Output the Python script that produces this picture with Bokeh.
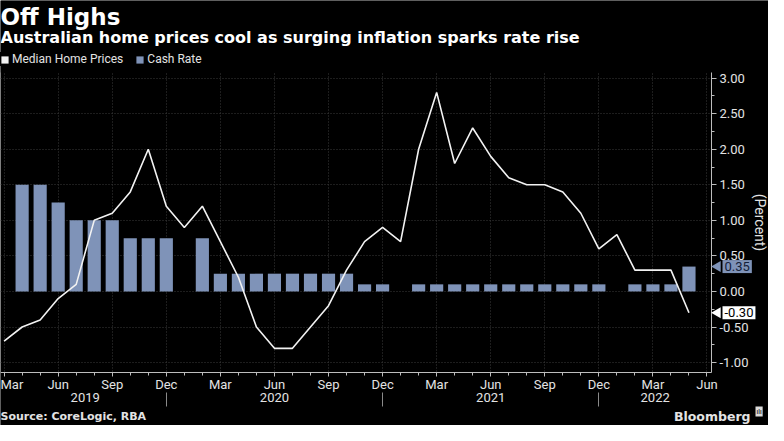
import math
import pandas as pd
from bokeh.plotting import figure
from bokeh.models import (Range1d, LinearAxis, FixedTicker, NumeralTickFormatter,
                          Label, Legend, LegendItem, ColumnDataSource, BoxAnnotation)
from bokeh.embed import file_html
from bokeh.resources import INLINE

# ---------------- data ----------------
TITLE = "Off Highs"
SUBTITLE = "Australian home prices cool as surging inflation sparks rate rise"
SOURCE = "Source: CoreLogic, RBA"
BRAND = "Bloomberg"
Y_LABEL = "(Percent)"
SERIES_NAMES = ["Median Home Prices", "Cash Rate"]

first_month = "2019-03"
last_month = "2022-05"
axis_last_month = "2022-06"

NaN = float("nan")
# monthly change in median home prices, Mar 2019 .. May 2022
home_prices = [-0.7, -0.5, -0.4, -0.1, 0.1, 1.0, 1.1, 1.4, 2.0, 1.2,
               0.9, 1.2, 0.7, 0.2, -0.5, -0.8, -0.8, -0.5, -0.2, 0.3, 0.7, 0.9,
               0.7, 2.0, 2.8, 1.8, 2.3, 1.9, 1.6, 1.5, 1.5, 1.4, 1.1, 0.6,
               0.8, 0.3, 0.3, 0.3, -0.3]
# RBA cash rate, Mar 2019 .. May 2022 (no decision in January)
cash_rate = [NaN, 1.5, 1.5, 1.25, 1.0, 1.0, 1.0, 0.75, 0.75, 0.75,
             NaN, 0.75, 0.25, 0.25, 0.25, 0.25, 0.25, 0.25, 0.25, 0.25, 0.1, 0.1,
             NaN, 0.1, 0.1, 0.1, 0.1, 0.1, 0.1, 0.1, 0.1, 0.1, 0.1, 0.1,
             NaN, 0.1, 0.1, 0.1, 0.35]
quarter_months = [3, 6, 9, 12]
y_ticks = [-1.0, -0.5, 0.0, 0.5, 1.0, 1.5, 2.0, 2.5, 3.0]
y_minor_ticks = [-1.0, -0.75, -0.5, -0.25, 0.0, 0.25, 0.5, 0.75, 1.0, 1.25,
                 1.5, 1.75, 2.0, 2.25, 2.5, 2.75, 3.0]

# ---------------- styling / layout ----------------
BG = "#000000"
LINE_COLOR = "#f2f2f2"
BAR_COLOR = "#7f93b8"
GRID_COLOR = "#3a3a3a"
AXIS_COLOR = "#bdbdbd"
TEXT_COLOR = "#e3e3e3"
TICK_FONT = "Roboto"
HEAD_FONT = "DejaVu Sans"

W, H = 768, 425
DL, DR, DT, DB = 0, 711, 72, 372        # data area inside the canvas (px)
X0, XA = -0.2, 39.25                     # data x at left edge / right axis
Y0, Y1 = -1.14, 3.08                     # data y at bottom / top of data area


def cx(px):
    return X0 + (px - DL) * (XA - X0) / (DR - DL)


def cy(py):
    return Y1 - (py - DT) * (Y1 - Y0) / (DB - DT)


XMIN, XMAX = cx(0), cx(W)
YTOP, YBOT = cy(0), cy(H)

months = pd.period_range(first_month, last_month, freq="M")
axis_months = pd.period_range(first_month, axis_last_month, freq="M")
xs = list(range(len(months)))

src = ColumnDataSource(dict(x=xs, home=home_prices, cash=cash_rate))

p = figure(width=W, height=H, x_range=Range1d(XMIN, XMAX), y_range=Range1d(YBOT, YTOP),
           output_backend="svg", toolbar_location=None, y_axis_location="right",
           min_border=0, min_border_left=0, min_border_right=0, min_border_top=0,
           min_border_bottom=0, background_fill_color=BG, border_fill_color=BG,
           outline_line_color=None)
p.title.visible = False

bars = p.vbar(x="x", top="cash", width=0.73, source=src, fill_color=BAR_COLOR,
              line_color=None)
line = p.line(x="x", y="home", source=src, line_color=LINE_COLOR, line_width=1.6)
# legend swatch for the line series (nothing visible is drawn: top is NaN)
swatch = p.vbar(x=[0], top=[NaN], width=0.5, fill_color=LINE_COLOR, line_color=None)

# grids
for g in (p.xgrid[0], p.ygrid[0]):
    g.grid_line_color = GRID_COLOR
    g.grid_line_dash = "1 2"
    g.grid_line_width = 1

# black masks outside the data area (hide grid overflow)
for (l, r, b, t) in [(XMIN, XMAX, Y1, YTOP), (XMIN, XMAX, YBOT, Y0), (XA, XMAX, Y0, Y1)]:
    p.add_layout(BoxAnnotation(left=l, right=r, bottom=b, top=t, fill_color=BG,
                               fill_alpha=1.0, line_color=None, level="glyph"))

# x axis (months)
q_ticks = [i for i, m in enumerate(axis_months) if m.month in quarter_months]
q_labels = {i: axis_months[i].strftime("%b") for i in q_ticks}
xa = p.xaxis[0]
xa.fixed_location = Y0
xa.bounds = (X0, XA)
xa.ticker = FixedTicker(ticks=q_ticks, minor_ticks=list(range(len(axis_months))))
xa.major_label_overrides = q_labels
xa.axis_line_color = AXIS_COLOR
xa.major_tick_line_color = AXIS_COLOR
xa.minor_tick_line_color = AXIS_COLOR
xa.major_tick_out, xa.major_tick_in = 4, 0
xa.minor_tick_out, xa.minor_tick_in = 3, 0
xa.major_label_standoff = 0
xa.major_label_text_font = TICK_FONT
xa.major_label_text_font_size = "13px"
xa.major_label_text_color = TEXT_COLOR

# year group labels and separators
separators = [i for i, m in enumerate(axis_months) if m.month == 12]
bounds = [0] + separators + [XA]
year_names = sorted({str(m.year) for m in axis_months})
year_centers = [(bounds[k] + bounds[k + 1]) / 2 for k in range(len(year_names))]
year_axis = LinearAxis(fixed_location=cy(DB + 19), bounds=(X0, XA),
                       ticker=FixedTicker(ticks=year_centers, minor_ticks=[]),
                       major_label_overrides={c: n for c, n in zip(year_centers, year_names)},
                       axis_line_color=None, major_tick_line_color=None,
                       minor_tick_line_color=None,
                       major_tick_out=0, major_tick_in=0, minor_tick_out=0, minor_tick_in=0,
                       major_label_standoff=1, major_label_text_font=TICK_FONT,
                       major_label_text_font_size="13px", major_label_text_color=TEXT_COLOR)
p.add_layout(year_axis, "below")
sep_axis = LinearAxis(fixed_location=cy(DB + 20), bounds=(X0, XA),
                      ticker=FixedTicker(ticks=[], minor_ticks=separators),
                      axis_line_color=None, major_tick_line_color=None,
                      major_label_text_font_size="0px",
                      minor_tick_line_color="#8a8a8a", minor_tick_out=14, minor_tick_in=0)
p.add_layout(sep_axis, "below")

# y axis (right)
ya = p.yaxis[0]
ya.fixed_location = XA
ya.bounds = (Y0, Y1)
ya.ticker = FixedTicker(ticks=y_ticks, minor_ticks=y_minor_ticks)
ya.formatter = NumeralTickFormatter(format="0.00")
ya.axis_line_color = AXIS_COLOR
ya.major_tick_line_color = AXIS_COLOR
ya.minor_tick_line_color = AXIS_COLOR
ya.major_tick_out, ya.major_tick_in = 5, 0
ya.minor_tick_out, ya.minor_tick_in = 3, 0
ya.major_label_standoff = 3
ya.major_label_text_font = TICK_FONT
ya.major_label_text_font_size = "13px"
ya.major_label_text_color = TEXT_COLOR
ya.axis_label = Y_LABEL
ya.axis_label_text_font = TICK_FONT
ya.axis_label_text_font_style = "normal"
ya.axis_label_text_font_size = "14px"
ya.axis_label_text_color = TEXT_COLOR
ya.axis_label_standoff = 1

# legend
legend = Legend(items=[LegendItem(label=SERIES_NAMES[0], renderers=[swatch]),
                       LegendItem(label=SERIES_NAMES[1], renderers=[bars])],
                orientation="horizontal", location=(0, H - 66),
                background_fill_color=BG, background_fill_alpha=1.0,
                border_line_color=None, label_text_color=TEXT_COLOR,
                label_text_font=TICK_FONT, label_text_font_size="12px",
                glyph_width=9, glyph_height=9, label_height=12, label_standoff=3,
                spacing=12, padding=2, margin=0)
p.add_layout(legend, "center")

# titles and footer
p.add_layout(Label(x=cx(0), y=cy(16), text=TITLE, text_font=HEAD_FONT,
                   text_font_style="bold", text_font_size="23px", text_color="white",
                   text_baseline="alphabetic", text_align="left"))
p.add_layout(Label(x=cx(0), y=cy(37), text=SUBTITLE, text_font=HEAD_FONT,
                   text_font_style="bold", text_font_size="16px", text_color="white",
                   text_baseline="alphabetic", text_align="left"))
p.add_layout(Label(x=cx(0), y=cy(416), text=SOURCE, text_font=HEAD_FONT,
                   text_font_style="bold", text_font_size="11px", text_color=TEXT_COLOR,
                   text_baseline="alphabetic", text_align="left"))
p.add_layout(Label(x=cx(750), y=cy(416), text=BRAND, text_font=HEAD_FONT,
                   text_font_style="bold", text_font_size="12.5px", text_color=TEXT_COLOR,
                   text_baseline="alphabetic", text_align="right"))
p.add_layout(Label(x=cx(755), y=cy(411), text="ılı", text_font=TICK_FONT,
                   text_font_size="7px", text_color="black",
                   background_fill_color="#dcdcdc", padding=1,
                   text_baseline="middle", text_align="left"))

# last-value tags
tag_vals = [cash_rate[-1], home_prices[-1]]
tag_fill = [BAR_COLOR, "white"]
tag_text = ["#14213a", "black"]
arrow = p.scatter(x=[cx(DR + 6)] * 2, y=tag_vals, marker="triangle", angle=math.pi / 2,
                  size=11, fill_color=tag_fill, line_color=None)
arrow.level = "overlay"
for v, f, t in zip(tag_vals, tag_fill, tag_text):
    p.add_layout(Label(x=cx(DR + 11), y=v, text=f"{v:.2f}", text_font=TICK_FONT,
                       text_font_size="13px", text_color=t, background_fill_color=f,
                       padding=2, text_baseline="middle", text_align="left"))

open("out.html", "w").write(file_html(p, INLINE))
